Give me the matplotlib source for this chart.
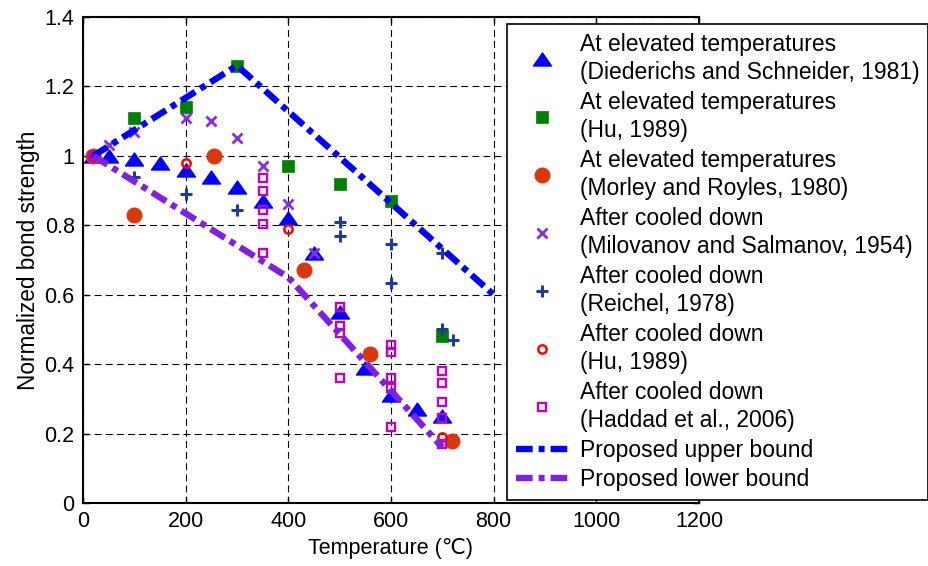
import matplotlib
matplotlib.use("Agg")
import matplotlib.pyplot as plt
from matplotlib.path import Path

plt.rcParams['font.family'] = ['Liberation Sans', 'DejaVu Sans', 'Noto Sans CJK SC']
plt.rcParams['lines.scale_dashes'] = False

# ---------------- data ----------------
# At elevated temperatures (Diederichs and Schneider, 1981)
ds_T = [20, 50, 100, 150, 200, 250, 300, 350, 400, 450, 500, 550, 600, 650, 700]
ds_v = [1.0, 1.0, 0.99, 0.98, 0.96, 0.94, 0.91, 0.87, 0.82, 0.72, 0.55, 0.39, 0.31, 0.27, 0.25]
# At elevated temperatures (Hu, 1989)
hue_T = [100, 200, 300, 400, 500, 600, 700]
hue_v = [1.11, 1.14, 1.26, 0.97, 0.92, 0.87, 0.48]
# At elevated temperatures (Morley and Royles, 1980)
mr_T = [20, 100, 255, 430, 560, 718]
mr_v = [1.0, 0.83, 1.0, 0.67, 0.43, 0.18]
# After cooled down (Milovanov and Salmanov, 1954)
ms_T = [20, 50, 100, 200, 250, 300, 350, 400, 450]
ms_v = [1.0, 1.03, 1.07, 1.11, 1.10, 1.05, 0.97, 0.86, 0.72]
# After cooled down (Reichel, 1978)
re_T = [20, 100, 200, 300, 500, 500, 600, 600, 700, 700, 720]
re_v = [1.0, 0.94, 0.89, 0.845, 0.81, 0.77, 0.745, 0.635, 0.72, 0.50, 0.47]
# After cooled down (Hu, 1989)
huc_T = [20, 200, 400, 700]
huc_v = [1.0, 0.98, 0.79, 0.19]
# After cooled down (Haddad et al., 2006)
ha_T = [20, 350, 350, 350, 350, 350, 500, 500, 500, 500,
        600, 600, 600, 600, 600, 700, 700, 700, 700, 700]
ha_v = [1.0, 0.935, 0.90, 0.845, 0.805, 0.72, 0.565, 0.51, 0.49, 0.36,
        0.455, 0.435, 0.36, 0.33, 0.22, 0.38, 0.345, 0.29, 0.245, 0.17]
# Proposed bounds
ub_T = [20, 300, 800]
ub_v = [1.0, 1.26, 0.60]
lb_T = [20, 400, 700]
lb_v = [1.0, 0.65, 0.16]

labels = [
    "At elevated temperatures\n(Diederichs and Schneider, 1981)",
    "At elevated temperatures\n(Hu, 1989)",
    "At elevated temperatures\n(Morley and Royles, 1980)",
    "After cooled down\n(Milovanov and Salmanov, 1954)",
    "After cooled down\n(Reichel, 1978)",
    "After cooled down\n(Hu, 1989)",
    "After cooled down\n(Haddad et al., 2006)",
    "Proposed upper bound",
    "Proposed lower bound",
]
xticks = [0, 200, 400, 600, 800, 1000, 1200]
yticks = [0, 0.2, 0.4, 0.6, 0.8, 1.0, 1.2, 1.4]
yticklabels = ["0", "0.2", "0.4", "0.6", "0.8", "1", "1.2", "1.4"]

# ---------------- figure ----------------
fig = plt.figure(figsize=(9.29, 5.66), dpi=100)
ax = fig.add_axes([83/929, 1-503/566, (699-83)/929, (503-17)/566])

wide_tri = Path([(0, 0.72), (-1, -0.72), (1, -0.72), (0, 0.72)],
                [Path.MOVETO, Path.LINETO, Path.LINETO, Path.CLOSEPOLY])

ax.plot(ds_T, ds_v, linestyle='none', marker=wide_tri, ms=13,
        color='#0000FF', mec='#0000FF', label=labels[0])
ax.plot(hue_T, hue_v, linestyle='none', marker='s', ms=8.2,
        color='#008000', mec='#008000', mew=0.5, label=labels[1])
ax.plot(mr_T, mr_v, linestyle='none', marker='o', ms=10.5,
        color='#D9380A', mec='#D9380A', label=labels[2])
ax.plot(ms_T, ms_v, linestyle='none', marker='x', ms=7,
        color='#8A2BE2', mew=2, label=labels[3])
ax.plot(re_T, re_v, linestyle='none', marker='+', ms=8.5,
        color='#203A96', mew=2.2, label=labels[4])
ax.plot(huc_T, huc_v, linestyle='none', marker='o', ms=6,
        mfc='none', mec='#FF0000', mew=1.8, label=labels[5])
ax.plot(ha_T, ha_v, linestyle='none', marker='s', ms=6.2,
        mfc='none', mec='#C000C0', mew=1.7, label=labels[6])
ax.plot(ub_T, ub_v, color='#0000FF', lw=4.6,
        dashes=(12, 4.3, 4.3, 4.3), label=labels[7])
ax.plot(lb_T, lb_v, color='#8020E0', lw=4.6,
        dashes=(12, 4.3, 4.3, 4.3), label=labels[8])

ax.set_xlim(0, 1200)
ax.set_ylim(0, 1.4)
ax.set_xticks(xticks)
ax.set_xticklabels([str(t) for t in xticks])
ax.set_yticks(yticks)
ax.set_yticklabels(yticklabels)
ax.tick_params(direction='in', length=4, width=1, top=True, right=True,
               labelsize=15.5, colors='black', pad=6)
for s in ax.spines.values():
    s.set_linewidth(1.5)
ax.grid(True, color='black', linewidth=0.8, dashes=(5, 3))
ax.set_axisbelow(True)

ax.set_xlabel("Temperature (\u2103)", fontsize=15.5, labelpad=4)
ax.set_ylabel("Normalized bond strength", fontsize=16.3, labelpad=3)

leg = ax.legend(loc='upper left', bbox_to_anchor=(507/929, 1-24/566),
                bbox_transform=fig.transFigure, borderaxespad=0,
                fontsize=16.5, numpoints=1, handlelength=2.27,
                handletextpad=0.52, borderpad=0.38, labelspacing=0.28,
                fancybox=False, framealpha=1, edgecolor='black')
leg.get_frame().set_linewidth(1.2)
for t in leg.get_texts():
    t.set_linespacing(1.31)

fig.savefig("out.png", dpi=100)
